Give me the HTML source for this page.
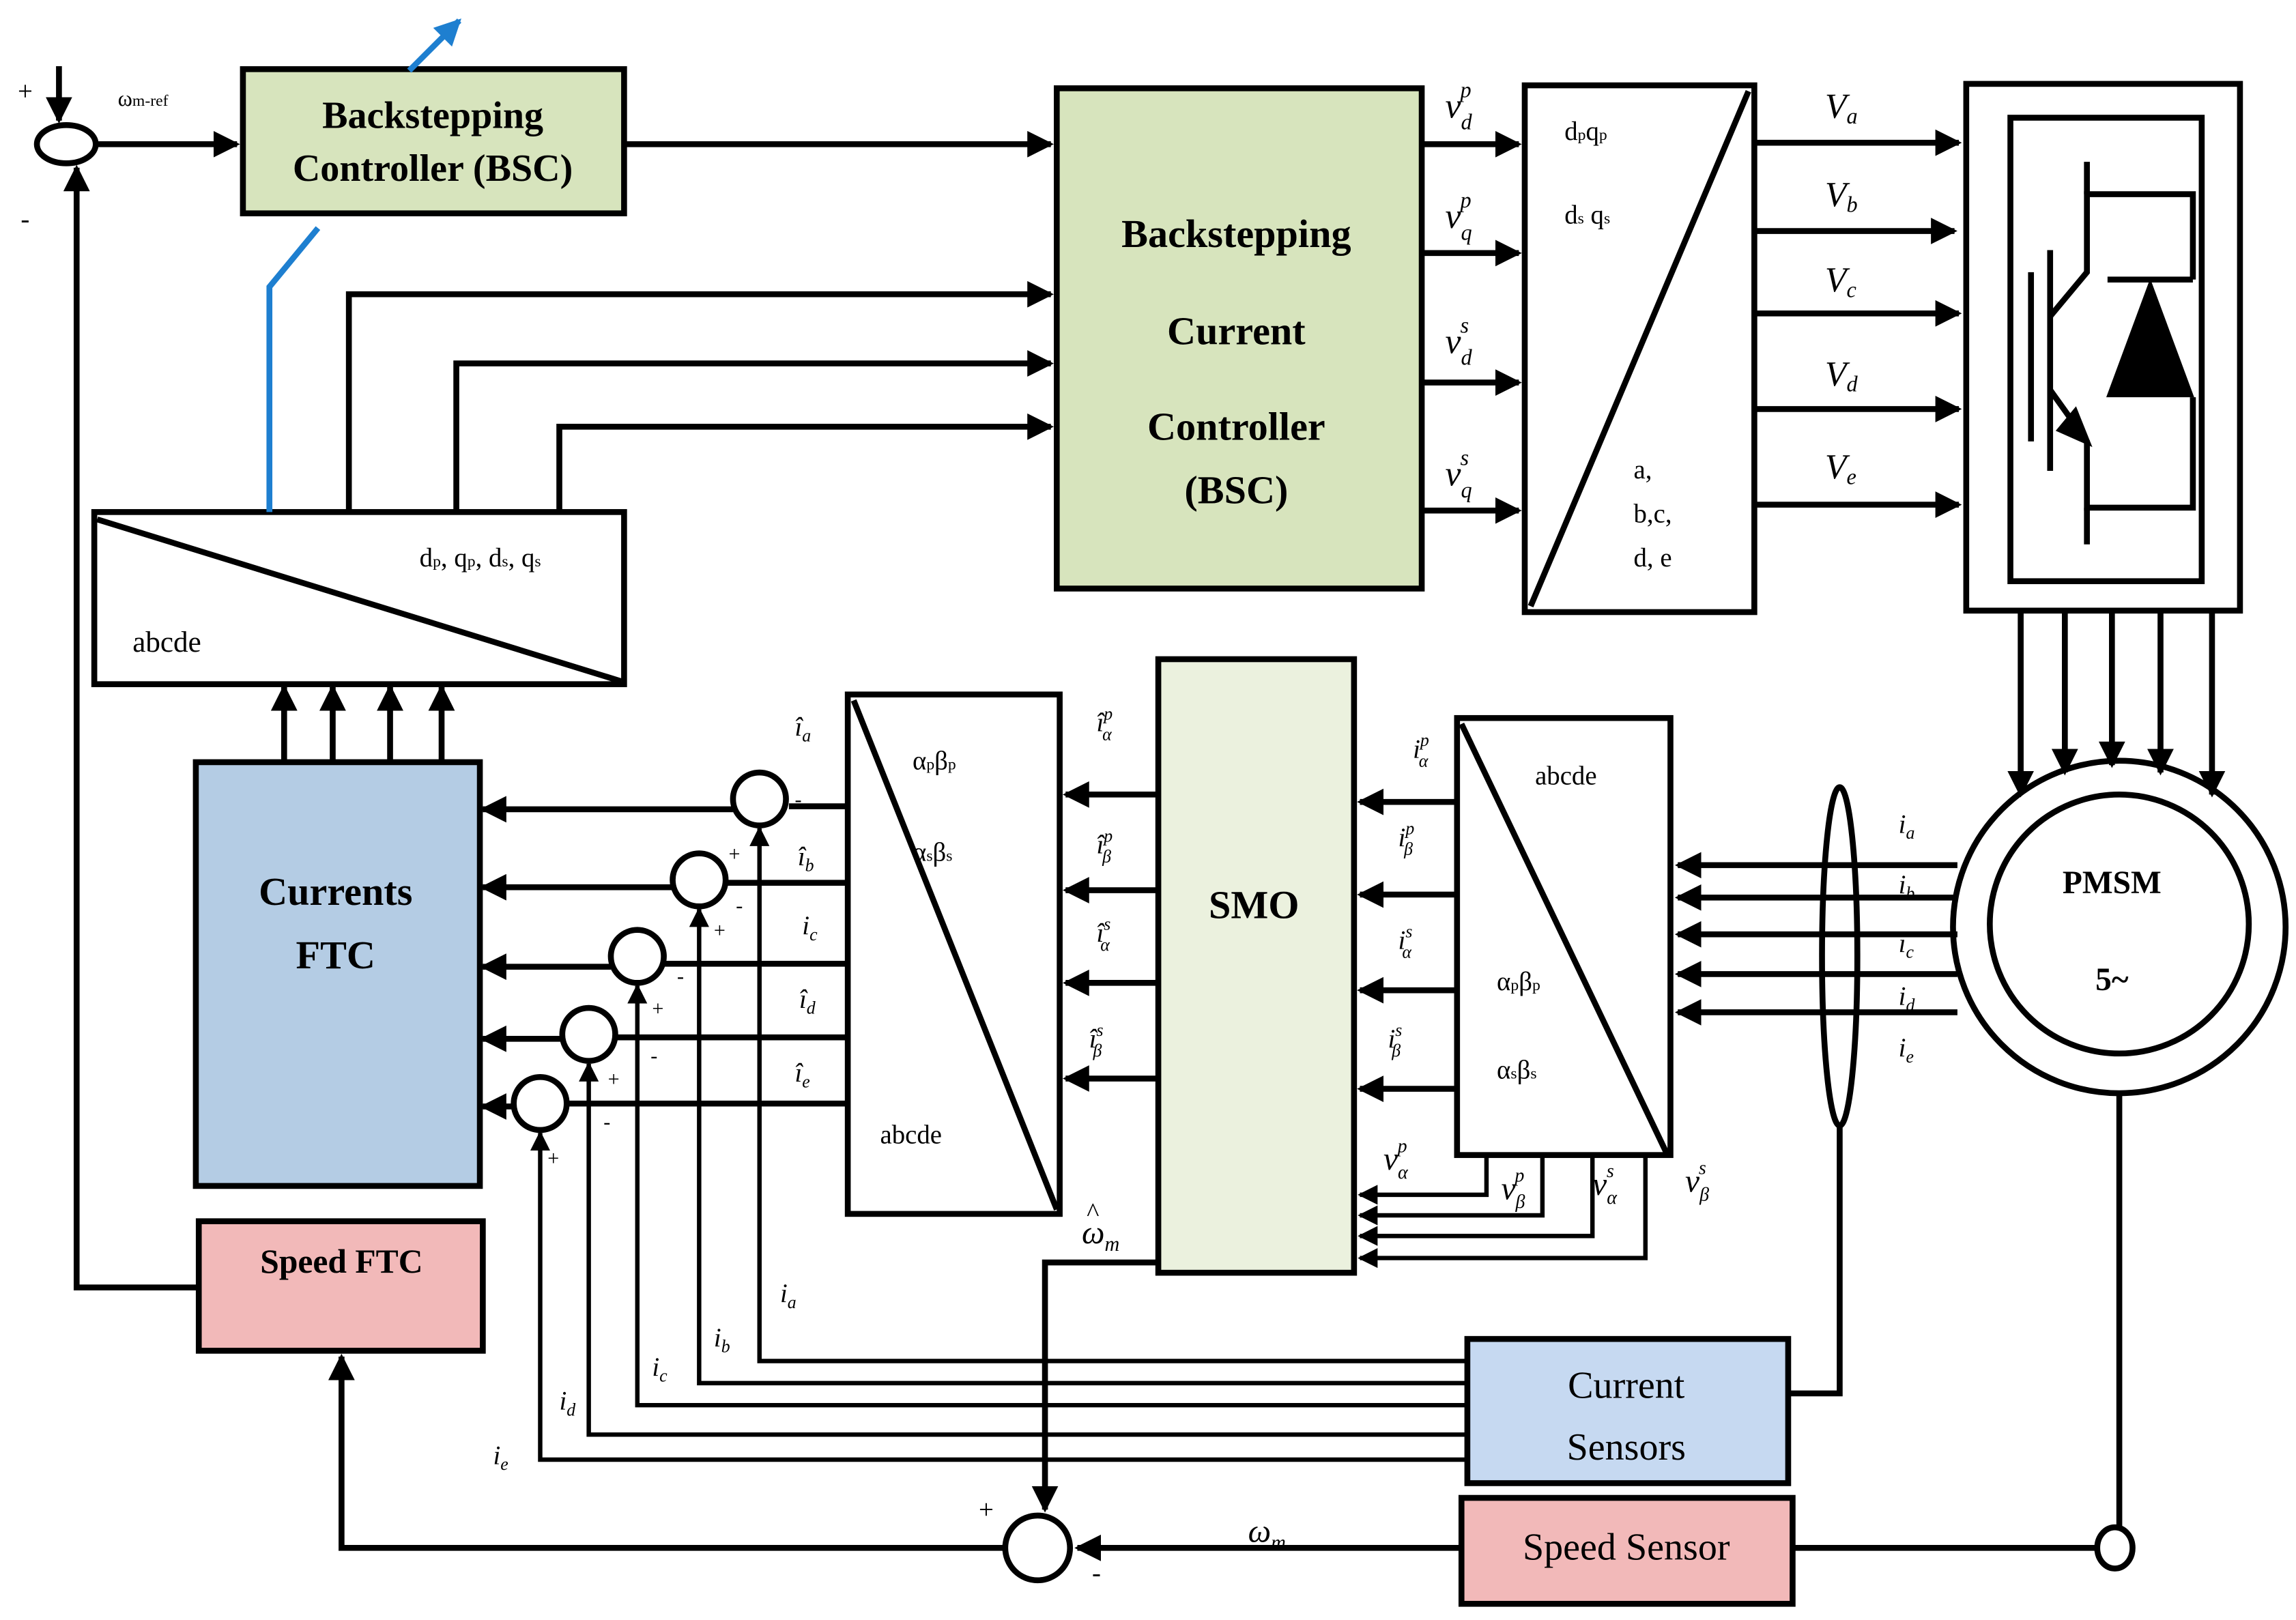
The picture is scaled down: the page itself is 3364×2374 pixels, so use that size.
<!DOCTYPE html>
<html><head><meta charset="utf-8"><style>
html,body{margin:0;padding:0;background:#fff}
svg{display:block}
text{font-family:"Liberation Serif",serif;fill:#000}
</style></head><body>
<svg width="3364" height="2374" viewBox="0 0 1560 1101" xmlns="http://www.w3.org/2000/svg">
<defs>
<marker id="a" markerWidth="4.5" markerHeight="4.5" refX="4" refY="2.25" orient="auto" markerUnits="strokeWidth"><path d="M0,0 L4.5,2.25 L0,4.5 z" fill="#000"/></marker>
<marker id="b" markerWidth="4.5" markerHeight="4.5" refX="4" refY="2.25" orient="auto" markerUnits="strokeWidth"><path d="M0,0 L4.5,2.25 L0,4.5 z" fill="#1e7fd0"/></marker>
</defs>
<g stroke="#000" stroke-width="4" fill="none">
<ellipse cx="45" cy="98" rx="20" ry="13"/>
<line x1="40" y1="45" x2="40" y2="82" marker-end="url(#a)"/>
<line x1="65" y1="98" x2="161" y2="98" marker-end="url(#a)"/>
<polyline points="135,875 52,875 52,114" marker-end="url(#a)"/>
<rect x="165" y="47" width="259" height="98" fill="#d7e4bd"/>
<line x1="424" y1="98" x2="714" y2="98" marker-end="url(#a)"/>
<rect x="718" y="60" width="248" height="340" fill="#d7e4bd"/>
<polyline points="237,348 237,200 714,200" marker-end="url(#a)"/>
<polyline points="310,348 310,247 714,247" marker-end="url(#a)"/>
<polyline points="380,348 380,290 714,290" marker-end="url(#a)"/>
<rect x="64" y="348" width="360" height="117" fill="#fff"/>
<line x1="66" y1="353" x2="422" y2="463"/>
<line x1="966" y1="98" x2="1032" y2="98" marker-end="url(#a)"/>
<line x1="966" y1="172" x2="1032" y2="172" marker-end="url(#a)"/>
<line x1="966" y1="260" x2="1032" y2="260" marker-end="url(#a)"/>
<line x1="966" y1="347" x2="1032" y2="347" marker-end="url(#a)"/>
<rect x="1036" y="58" width="156" height="358" fill="#fff"/>
<line x1="1040" y1="412" x2="1188" y2="62"/>
<line x1="1192" y1="97" x2="1331" y2="97" marker-end="url(#a)"/>
<line x1="1192" y1="157" x2="1328" y2="157" marker-end="url(#a)"/>
<line x1="1192" y1="213" x2="1331" y2="213" marker-end="url(#a)"/>
<line x1="1192" y1="278" x2="1331" y2="278" marker-end="url(#a)"/>
<line x1="1192" y1="343" x2="1331" y2="343" marker-end="url(#a)"/>
<rect x="1336" y="57" width="186" height="358"/>
<rect x="1366" y="80" width="130" height="315"/>
<line x1="1380" y1="185" x2="1380" y2="300"/>
<line x1="1393" y1="170" x2="1393" y2="320"/>
<polyline points="1393,215 1418,185 1418,132 1490,132 1490,190"/>
<polyline points="1393,265 1418,300 1418,345 1490,345 1490,270"/>
<line x1="1418" y1="110" x2="1418" y2="132"/>
<line x1="1418" y1="345" x2="1418" y2="370"/>
<line x1="1432" y1="190" x2="1490" y2="190"/>
<path d="M1434,268 L1488,268 L1461,195 z" fill="#000"/>
<path d="M1418,300 L1400,292 L1410,280 z" fill="#000"/>
<line x1="1373" y1="415" x2="1373" y2="540" marker-end="url(#a)"/>
<line x1="1403" y1="415" x2="1403" y2="525" marker-end="url(#a)"/>
<line x1="1435" y1="415" x2="1435" y2="520" marker-end="url(#a)"/>
<line x1="1468" y1="415" x2="1468" y2="525" marker-end="url(#a)"/>
<line x1="1503" y1="415" x2="1503" y2="540" marker-end="url(#a)"/>
<circle cx="1440" cy="630" r="113"/>
<circle cx="1440" cy="628" r="88"/>
<line x1="1330" y1="588" x2="1140" y2="588" marker-end="url(#a)"/>
<line x1="1330" y1="610" x2="1140" y2="610" marker-end="url(#a)"/>
<line x1="1330" y1="635" x2="1140" y2="635" marker-end="url(#a)"/>
<line x1="1330" y1="662" x2="1140" y2="662" marker-end="url(#a)"/>
<line x1="1330" y1="688" x2="1140" y2="688" marker-end="url(#a)"/>
<ellipse cx="1250" cy="650" rx="12" ry="115"/>
<polyline points="1250,765 1250,947 1215,947"/>
<rect x="997" y="910" width="218" height="98" fill="#c6d9f1"/>
<rect x="993" y="1018" width="225" height="72" fill="#f2b9b9"/>
<line x1="1440" y1="743" x2="1440" y2="1038"/>
<ellipse cx="1437" cy="1052" rx="12" ry="14"/>
<line x1="1218" y1="1052" x2="1425" y2="1052"/>
<line x1="993" y1="1052" x2="732" y2="1052" marker-end="url(#a)"/>
<circle cx="705" cy="1052" r="22"/>
<polyline points="787,858 710,858 710,1026" marker-end="url(#a)"/>
<polyline points="683,1052 232,1052 232,922" marker-end="url(#a)"/>
<rect x="135" y="830" width="193" height="88" fill="#f2b9b9"/>
<rect x="133" y="518" width="193" height="288" fill="#b4cce4"/>
<line x1="193" y1="518" x2="193" y2="467" marker-end="url(#a)"/>
<line x1="226" y1="518" x2="226" y2="467" marker-end="url(#a)"/>
<line x1="265" y1="518" x2="265" y2="467" marker-end="url(#a)"/>
<line x1="300" y1="518" x2="300" y2="467" marker-end="url(#a)"/>
<rect x="990" y="488" width="145" height="297" fill="#fff"/>
<line x1="993" y1="492" x2="1133" y2="785"/>
<line x1="988" y1="545" x2="924" y2="545" marker-end="url(#a)"/>
<line x1="988" y1="608" x2="924" y2="608" marker-end="url(#a)"/>
<line x1="988" y1="673" x2="924" y2="673" marker-end="url(#a)"/>
<line x1="988" y1="740" x2="924" y2="740" marker-end="url(#a)"/>
<rect x="787" y="448" width="133" height="417" fill="#ebf1de"/>
<g stroke-width="3">
<polyline points="1010,785 1010,812 924,812" marker-end="url(#a)"/>
<polyline points="1048,785 1048,826 924,826" marker-end="url(#a)"/>
<polyline points="1082,785 1082,840 924,840" marker-end="url(#a)"/>
<polyline points="1118,785 1118,855 924,855" marker-end="url(#a)"/>
</g>
<line x1="787" y1="540" x2="724" y2="540" marker-end="url(#a)"/>
<line x1="787" y1="605" x2="724" y2="605" marker-end="url(#a)"/>
<line x1="787" y1="668" x2="724" y2="668" marker-end="url(#a)"/>
<line x1="787" y1="733" x2="724" y2="733" marker-end="url(#a)"/>
<rect x="576" y="472" width="144" height="353" fill="#fff"/>
<line x1="580" y1="476" x2="718" y2="822"/>
<line x1="576" y1="548" x2="536" y2="548"/>
<line x1="576" y1="600" x2="493" y2="600"/>
<line x1="576" y1="655" x2="451" y2="655"/>
<line x1="576" y1="705" x2="418" y2="705"/>
<line x1="576" y1="750" x2="385" y2="750"/>
<circle cx="516" cy="543" r="18"/>
<circle cx="475" cy="598" r="18"/>
<circle cx="433" cy="650" r="18"/>
<circle cx="400" cy="703" r="18"/>
<circle cx="367" cy="750" r="18"/>
<line x1="498" y1="550" x2="328" y2="550" marker-end="url(#a)"/>
<line x1="457" y1="603" x2="328" y2="603" marker-end="url(#a)"/>
<line x1="415" y1="657" x2="328" y2="657" marker-end="url(#a)"/>
<line x1="382" y1="706" x2="328" y2="706" marker-end="url(#a)"/>
<line x1="349" y1="752" x2="328" y2="752" marker-end="url(#a)"/>
<g stroke-width="3">
<polyline points="997,925 516,925 516,563" marker-end="url(#a)"/>
<polyline points="997,940 475,940 475,618" marker-end="url(#a)"/>
<polyline points="997,955 433,955 433,670" marker-end="url(#a)"/>
<polyline points="997,975 400,975 400,723" marker-end="url(#a)"/>
<polyline points="997,992 367,992 367,770" marker-end="url(#a)"/>
</g>
</g>
<g stroke="#1e7fd0" stroke-width="4" fill="none">
<polyline points="183,348 183,195 216,155"/>
<line x1="278" y1="48" x2="312" y2="14" marker-end="url(#b)"/>
</g>
<g font-size="18">
<text x="12" y="68">+</text><text x="14" y="155">-</text>
<text x="80" y="72" font-size="15">ω<tspan font-size="11">m-ref</tspan></text>
<text x="294" y="87" font-size="26" font-weight="bold" text-anchor="middle">Backstepping</text>
<text x="294" y="123" font-size="26" font-weight="bold" text-anchor="middle">Controller (BSC)</text>
<g font-size="27" font-weight="bold" text-anchor="middle">
<text x="840" y="168">Backstepping</text><text x="840" y="234">Current</text>
<text x="840" y="299">Controller</text><text x="840" y="342">(BSC)</text>
<text x="852" y="624">SMO</text>
<text x="228" y="615">Currents</text><text x="228" y="658">FTC</text>
</g>
<text x="1435" y="607" font-size="22" font-weight="bold" text-anchor="middle">PMSM</text>
<text x="1435" y="673" font-size="22" font-weight="bold" text-anchor="middle">5~</text>
<text x="232" y="865" font-size="23" font-weight="bold" text-anchor="middle">Speed FTC</text>
<text x="1105" y="950" font-size="26" text-anchor="middle">Current</text>
<text x="1105" y="992" font-size="26" text-anchor="middle">Sensors</text>
<text x="1105" y="1060" font-size="26" text-anchor="middle">Speed Sensor</text>
<text x="285" y="385">d<tspan font-size="11">p</tspan>, q<tspan font-size="11">p</tspan>, d<tspan font-size="11">s</tspan>, q<tspan font-size="11">s</tspan></text>
<text x="90" y="443" font-size="20">abcde</text>
<g font-style="italic" font-size="24">
<text x="982" y="80">v<tspan font-size="15" dy="8">d</tspan><tspan font-size="15" dx="-8" dy="-22">p</tspan></text>
<text x="982" y="155">v<tspan font-size="15" dy="8">q</tspan><tspan font-size="15" dx="-8" dy="-22">p</tspan></text>
<text x="982" y="240">v<tspan font-size="15" dy="8">d</tspan><tspan font-size="15" dx="-8" dy="-22">s</tspan></text>
<text x="982" y="330">v<tspan font-size="15" dy="8">q</tspan><tspan font-size="15" dx="-8" dy="-22">s</tspan></text>
<text x="1240" y="80">V<tspan font-size="15" dy="4">a</tspan></text>
<text x="1240" y="140">V<tspan font-size="15" dy="4">b</tspan></text>
<text x="1240" y="198">V<tspan font-size="15" dy="4">c</tspan></text>
<text x="1240" y="262">V<tspan font-size="15" dy="4">d</tspan></text>
<text x="1240" y="325">V<tspan font-size="15" dy="4">e</tspan></text>
</g>
<text x="1063" y="95">d<tspan font-size="11">p</tspan>q<tspan font-size="11">p</tspan></text>
<text x="1063" y="152">d<tspan font-size="11">s</tspan> q<tspan font-size="11">s</tspan></text>
<text x="1110" y="325">a,</text><text x="1110" y="355">b,c,</text><text x="1110" y="385">d, e</text>
<text x="1043" y="533">abcde</text>
<text x="1017" y="673">α<tspan font-size="11">p</tspan>β<tspan font-size="11">p</tspan></text>
<text x="1017" y="733">α<tspan font-size="11">s</tspan>β<tspan font-size="11">s</tspan></text>
<text x="620" y="523">α<tspan font-size="11">p</tspan>β<tspan font-size="11">p</tspan></text>
<text x="620" y="585">α<tspan font-size="11">s</tspan>β<tspan font-size="11">s</tspan></text>
<text x="598" y="777">abcde</text>
<g font-style="italic" font-size="18">
<text x="960" y="515">i<tspan font-size="12" dy="-8">p</tspan><tspan font-size="12" dx="-7" dy="14">α</tspan></text>
<text x="950" y="575">i<tspan font-size="12" dy="-8">p</tspan><tspan font-size="12" dx="-7" dy="14">β</tspan></text>
<text x="950" y="645">i<tspan font-size="12" dy="-8">s</tspan><tspan font-size="12" dx="-7" dy="14">α</tspan></text>
<text x="943" y="712">i<tspan font-size="12" dy="-8">s</tspan><tspan font-size="12" dx="-7" dy="14">β</tspan></text>
<text x="745" y="497">î<tspan font-size="12" dy="-8">p</tspan><tspan font-size="12" dx="-7" dy="14">α</tspan></text>
<text x="745" y="580">î<tspan font-size="12" dy="-8">p</tspan><tspan font-size="12" dx="-7" dy="14">β</tspan></text>
<text x="745" y="640">î<tspan font-size="12" dy="-8">s</tspan><tspan font-size="12" dx="-7" dy="14">α</tspan></text>
<text x="740" y="712">î<tspan font-size="12" dy="-8">s</tspan><tspan font-size="12" dx="-7" dy="14">β</tspan></text>
<text x="940" y="795" font-size="22">v<tspan font-size="13" dy="6">α</tspan><tspan font-size="13" dx="-7" dy="-18">p</tspan></text>
<text x="1020" y="815" font-size="22">v<tspan font-size="13" dy="6">β</tspan><tspan font-size="13" dx="-7" dy="-18">p</tspan></text>
<text x="1082" y="812" font-size="22">v<tspan font-size="13" dy="6">α</tspan><tspan font-size="13" dx="-7" dy="-18">s</tspan></text>
<text x="1145" y="810" font-size="22">v<tspan font-size="13" dy="6">β</tspan><tspan font-size="13" dx="-7" dy="-18">s</tspan></text>
<text x="1290" y="566">i<tspan font-size="12" dy="4">a</tspan></text>
<text x="1290" y="607">i<tspan font-size="12" dy="4">b</tspan></text>
<text x="1290" y="647">i<tspan font-size="12" dy="4">c</tspan></text>
<text x="1290" y="683">i<tspan font-size="12" dy="4">d</tspan></text>
<text x="1290" y="718">i<tspan font-size="12" dy="4">e</tspan></text>
<text x="540" y="500">î<tspan font-size="12" dy="4">a</tspan></text>
<text x="542" y="588">î<tspan font-size="12" dy="4">b</tspan></text>
<text x="545" y="635">i<tspan font-size="12" dy="4">c</tspan></text>
<text x="543" y="685">î<tspan font-size="12" dy="4">d</tspan></text>
<text x="540" y="735">î<tspan font-size="12" dy="4">e</tspan></text>
<text x="530" y="885">i<tspan font-size="12" dy="4">a</tspan></text>
<text x="485" y="915">i<tspan font-size="12" dy="4">b</tspan></text>
<text x="443" y="935">i<tspan font-size="12" dy="4">c</tspan></text>
<text x="380" y="958">i<tspan font-size="12" dy="4">d</tspan></text>
<text x="335" y="995">i<tspan font-size="12" dy="4">e</tspan></text>
<text x="735" y="845" font-size="22">ω<tspan font-size="14" dy="5">m</tspan></text>
<text x="738" y="830" font-size="18">^</text>
<text x="848" y="1048" font-size="22">ω<tspan font-size="14" dy="5">m</tspan></text>
</g>
<g font-size="14">
<text x="540" y="548">-</text><text x="495" y="585">+</text><text x="500" y="620">-</text>
<text x="485" y="637">+</text><text x="460" y="668">-</text><text x="443" y="690">+</text>
<text x="442" y="722">-</text><text x="413" y="738">+</text><text x="410" y="767">-</text>
<text x="372" y="792">+</text>
<text x="665" y="1032" font-size="18">+</text><text x="742" y="1075" font-size="18">-</text>
</g>
</g>
</svg>
</body></html>
